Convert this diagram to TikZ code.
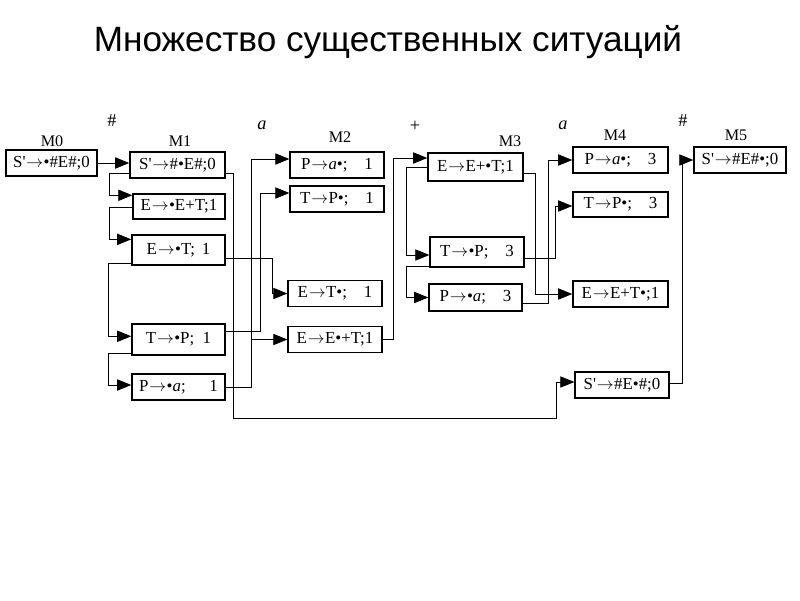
\documentclass[tikz,border=0pt]{standalone}
\usepackage{fontspec}
\setmainfont{Liberation Serif}[Ligatures=TeXOff]
\newfontfamily\titlefont{Liberation Sans}
\usetikzlibrary{arrows.meta,calc}
\newcommand{\ar}{\kern0.05em$\rightarrow$\kern0.02em}

\begin{document}
\begin{tikzpicture}
  [x=0.025cm,y=-0.025cm,
   every node/.style={inner sep=0pt},
   sit/.style={draw,line width=0.9pt,minimum width=2.35cm,minimum height=0.65cm,
     font=\fontsize{12}{14}\selectfont},
   lab/.style={font=\fontsize{11.5}{13}\selectfont},
   arr/.style={-{Triangle[length=10pt,width=8pt]},line width=0.6pt}]
  \useasboundingbox (0,0) rectangle (800,600);
  \node[font=\titlefont\fontsize{25}{30}\selectfont] (title) at (388,42) {Множество существенных ситуаций};

  % situations, one column per set
  \node[sit,minimum width=2.28cm] (m0) at (51.5,163) {S'\ar•\#E\#;0};
  \node[sit,minimum width=2.38cm] (m1a) at (177.5,165) {S'\ar\#•E\#;0};
  \node[sit,minimum width=2.3cm,minimum height=0.63cm] (m1b) at (179,206.5) {E\ar•E+T;1};
  \node[sit,minimum width=2.33cm,minimum height=0.75cm] (m1c) at (178.5,250) {E\ar•T;\hspace{0.4em}1};
  \node[sit,minimum width=2.33cm,minimum height=0.78cm] (m1d) at (178.5,339.5) {T\ar•P;\hspace{0.5em}1};
  \node[sit,minimum width=2.33cm] (m1e) at (178.5,387) {P\ar•\textit{a};\hspace{1.4em}1};
  \node[sit] (m2a) at (337,165) {P\ar\textit{a}•;\hspace{1em}1};
  \node[sit] (m2b) at (337,199) {T\ar P•;\hspace{1em}1};
  \node[sit] (m2c) at (335,293.5) {E\ar T•;\hspace{1em}1};
  \node[sit] (m2d) at (335,339.5) {E\ar E•+T;1};
  \node[sit,minimum width=2.38cm,minimum height=0.7cm] (m3a) at (475.5,167) {E\ar E+•T;1};
  \node[sit,minimum height=0.75cm] (m3b) at (477,252) {T\ar•P;\hspace{1em}3};
  \node[sit,minimum width=2.33cm,minimum height=0.68cm] (m3c) at (475.5,297.5) {P\ar•\textit{a};\hspace{1em}3};
  \node[sit,minimum width=2.38cm] (m4a) at (620.5,160) {P\ar\textit{a}•;\hspace{1em}3};
  \node[sit,minimum width=2.38cm,minimum height=0.63cm] (m4b) at (620.5,204.5) {T\ar P•;\hspace{1em}3};
  \node[sit,minimum width=2.38cm] (m4c) at (620.5,294) {E\ar E+T•;1};
  \node[sit] (m4d) at (622,385) {S'\ar\#E•\#;0};
  \node[sit,minimum width=2.3cm] (m5) at (740,160) {S'\ar\#E\#•;0};

  % set names and symbols
  \foreach \n/\x/\y in {0/52/141,1/180/141,2/340/137,3/510/141,4/615/135,5/736/135}
    \node[lab] (lm\n) at (\x,\y) {M\n};
  \foreach \s/\x/\y [count=\i] in {\#/112/121,\textit{a}/262/125,+/415/126,\textit{a}/563/125,\#/683/121}
    \node[lab,font=\fontsize{13}{15}\selectfont] (t\i) at (\x,\y) {\s};

  % inside M1
  \draw[arr] (m0.east) -- (m0.east -| m1a.west);
  \draw[arr] ($(m1a.south west)+(0,-5)$) -- ++(-20,0) |- ($(m1b.north west)+(0,2)$);
  \draw[arr] ($(m1b.south west)+(0,-12)$) -- ++(-23,0) |- ($(m1c.north west)+(0,5)$);
  \draw[arr] ($(m1c.south west)+(0,-2)$) -- ++(-23,0) |- ($(m1d.north west)+(0,13)$);
  \draw[arr] ($(m1d.south west)+(0,-2)$) -- ++(-23,0) |- ($(m1e.west)+(0,-2)$);
  % M1 to M2 and M4
  \draw[arr] ($(m1a.south east)+(0,-5)$) -| (233,418) -- (556,418) |- ($(m4d.west)+(0,-3)$);
  \draw[arr] ($(m1c.east)+(0,8)$) -- ++(47,0) |- (m2c.west);
  \draw[arr] ($(m1d.east)+(0,-8)$) -- ++(35,0) |- ($(m2b.west)+(0,-6)$);
  \draw[arr] (m1e.east) -- ++(26,0) coordinate (b1) |- ($(m2a.west)+(0,-6)$);
  \draw[arr] (b1 |- m2d.west) -- (m2d.west);
  % M2 to M3, inside M3
  \draw[arr] (m2d.east) -- ++(11,0) |- ($(m3a.west)+(0,-9)$);
  \draw[arr] (m3a.west) -- ++(-21,0) |- ($(m3b.west)+(0,3)$);
  \draw[arr] ($(m3b.south west)+(0,-1)$) -- ++(-23,0) |- (m3c.west);
  % M3 to M4, M4 to M5
  \draw[arr] ($(m3a.east)+(0,6)$) -- ++(12,0) |- (m4c.west);
  \draw[arr] ($(m3b.east)+(0,6)$) -- ++(31,0) |- ($(m4b.west)+(0,1.5)$);
  \draw[arr] ($(m3c.east)+(0,5.5)$) -- ++(26,0) |- (m4a.west);
  \draw[arr] ($(m4d.east)+(0,-2)$) -- ++(13,0) |- (m5.west);
\end{tikzpicture}
\end{document}
